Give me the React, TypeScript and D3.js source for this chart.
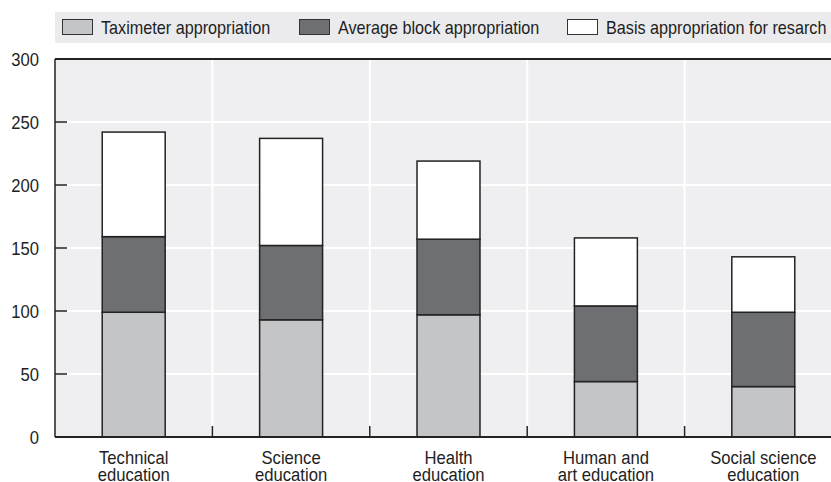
import React from "react";
import * as d3 from "d3";

const categories = [
  ["Technical", "education"],
  ["Science", "education"],
  ["Health", "education"],
  ["Human and", "art education"],
  ["Social science", "education"],
];
const seriesNames = [
  "Taximeter appropriation",
  "Average block appropriation",
  "Basis appropriation for resarch",
];
const taximeter = [99, 93, 97, 44, 40];
const averageBlock = [60, 59, 60, 60, 59];
const basisResearch = [83, 85, 62, 54, 44];
const yTicks = [0, 50, 100, 150, 200, 250, 300];

const colors = ["#c4c5c7", "#6e6f73", "#ffffff"];
const FONT = "'Liberation Sans', Arial, sans-serif";
const SX = 0.9;

function T({ x, y, anchor = "start", size = 18.5, children }: any) {
  return (
    <text transform={`translate(${x},${y}) scale(${SX},1)`} textAnchor={anchor} fontSize={size} fill="#1e1e1e">
      {children}
    </text>
  );
}

export default function App() {
  const W = 831, H = 482;
  const left = 55, right = 842, top = 59, bottom = 437;
  const keys = categories.map((c) => c.join(" "));
  const x = d3.scaleBand().domain(keys).range([left, right]).paddingInner(0.6).paddingOuter(0.3);
  const y = d3.scaleLinear().domain([0, 300]).range([bottom, top]);
  const rows = keys.map((k, i) => ({ key: k, a: taximeter[i], b: averageBlock[i], c: basisResearch[i] }));
  const stack = d3.stack<any>().keys(["a", "b", "c"])(rows);
  const step = x.step();
  const boundaries = keys.slice(1).map((k) => (x(k) as number) - (step - x.bandwidth()) / 2);

  const legendX = [62, 299, 567];

  return (
    <svg width={W} height={H} style={{ position: "absolute", left: 0, top: 0, background: "#fff" }} fontFamily={FONT}>
      {/* legend */}
      <rect x={55} y={12} width={W - 55} height={31} fill="#ebebed" />
      {seriesNames.map((n, i) => (
        <g key={n}>
          <rect x={legendX[i] + 0.5} y={19.5} width={30} height={15} fill={colors[i]} stroke="#333" strokeWidth={1} />
          <T x={legendX[i] + 39} y={34} size={18}>{n}</T>
        </g>
      ))}
      {/* plot background */}
      <rect x={left} y={top} width={W - left} height={bottom - top} fill="#efeff1" />
      {yTicks.filter((t) => t > 0 && t < 300).map((t) => (
        <line key={t} x1={left} x2={W} y1={y(t)} y2={y(t)} stroke="#fff" strokeWidth={2} />
      ))}
      {boundaries.map((b, i) => (
        <line key={i} x1={b} x2={b} y1={top} y2={bottom} stroke="#fff" strokeWidth={2} />
      ))}
      {/* bars */}
      {stack.map((s, si) =>
        s.map((d, i) => (
          <rect
            key={si + "-" + i}
            x={x(keys[i])}
            y={y(d[1])}
            width={x.bandwidth()}
            height={y(d[0]) - y(d[1])}
            fill={colors[si]}
            stroke="#222"
            strokeWidth={1.5}
          />
        ))
      )}
      {/* axes */}
      <line x1={left} x2={W} y1={top} y2={top} stroke="#222" strokeWidth={2} />
      <line x1={left} x2={W} y1={bottom} y2={bottom} stroke="#222" strokeWidth={2} />
      <line x1={left} x2={left} y1={top} y2={bottom} stroke="#222" strokeWidth={1.5} />
      {yTicks.filter((t) => t > 0 && t < 300).map((t) => (
        <line key={"t" + t} x1={left} x2={left + 12} y1={y(t)} y2={y(t)} stroke="#222" strokeWidth={1.5} />
      ))}
      {boundaries.map((b, i) => (
        <line key={"b" + i} x1={b} x2={b} y1={bottom} y2={bottom - 11} stroke="#222" strokeWidth={1.5} />
      ))}
      {yTicks.map((t) => (
        <T key={"l" + t} x={39} y={y(t) + 6.5} anchor="end">{t}</T>
      ))}
      {categories.map((c, i) => {
        const cx = (x(keys[i]) as number) + x.bandwidth() / 2;
        return (
          <g key={"c" + i}>
            <T x={cx} y={463.5} anchor="middle">{c[0]}</T>
            <T x={cx} y={480.5} anchor="middle">{c[1]}</T>
          </g>
        );
      })}
    </svg>
  );
}
